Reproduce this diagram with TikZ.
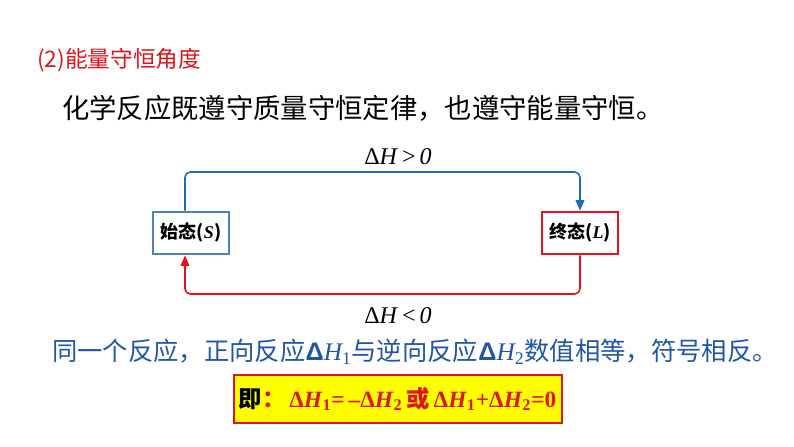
\documentclass[tikz,border=0pt]{standalone}
\usepackage{fontspec}
\setmainfont{Liberation Serif}
\newfontfamily\cjk{Noto Sans CJK SC}
\newfontfamily\arial{Liberation Sans}
\usetikzlibrary{arrows.meta,positioning}
\definecolor{tred}{HTML}{E0141E}
\definecolor{tblue}{HTML}{1E6BB8}
\definecolor{sblue}{HTML}{4F81BD}
\definecolor{fblue}{HTML}{1F56A8}
\definecolor{byellow}{HTML}{FFFF00}
\newcommand{\dH}[1]{Δ\textit{H}\textsubscript{#1}}
\newcommand{\sH}[1]{{\arial\bfseries Δ}{\rmfamily\itshape H}{\rmfamily\textsubscript{#1}}}
\tikzset{
  % state boxes, border colour as argument
  state/.style = {rectangle, draw=#1, line width=1.4pt, fill=white,
                  minimum width=57pt, minimum height=32pt, inner sep=2pt,
                  font=\cjk\bfseries\fontsize{13.5}{15}\selectfont},
  flow/.style  = {-{Triangle[length=8pt,width=6.5pt]}, draw=#1, line width=1.2pt,
                  rounded corners=4pt},
  dh/.style    = {font=\fontsize{18}{20}\selectfont, inner sep=0pt},
  line/.style  = {anchor=west, inner sep=0pt},
}
\begin{document}
\begin{tikzpicture}[x=0.75pt,y=-0.75pt]
\useasboundingbox (0,0) rectangle (794,447);
% headings
\node[line, text=tred, font=\cjk\fontsize{17}{20}\selectfont] (title) at (37,60)
  {(2)能量守恒角度};
\node[line, font=\cjk\fontsize{20.5}{24}\selectfont] (law) at (62,108)
  {化学反应既遵守质量守恒定律，也遵守能量守恒。};
% states
\node[state=sblue] (S) at (191,233) {始态({\rmfamily\itshape S})};
\node[state=tred]  (L) at (580,233) {终态({\rmfamily\itshape L})};
\coordinate (up) at (400,172);
\coordinate (dn) at (400,294);
\draw[flow=tblue] ([xshift=-4.5pt]S.north) |- (up) -| (L.north);
\draw[flow=tred] (L.south) |- (dn) -| ([xshift=-4.5pt]S.south);
\node[dh] (gt) at (398,157) {Δ\textit{H}\,>\,\textit{0}};
\node[dh] (lt) at (398,316) {Δ\textit{H}\,<\,\textit{0}};
% conclusion
\node[line, text=fblue, font=\cjk\fontsize{19}{22}\selectfont] (rule) at (52,352)
  {同一个反应，正向反应\sH{1}与逆向反应\sH{2}数值相等，符号相反。};
\node[draw=tred, line width=1.5pt, fill=byellow, minimum width=246pt, minimum height=36pt,
      inner sep=0pt, font=\bfseries\fontsize{17.5}{20}\selectfont] (eq) at (397.5,399)
  {{\cjk 即{\color{tred}：}}\,{\color{tred}\dH{1}=\,–\dH{2}\,{\cjk 或}\,\dH{1}+\dH{2}=0}};
\end{tikzpicture}
\end{document}
